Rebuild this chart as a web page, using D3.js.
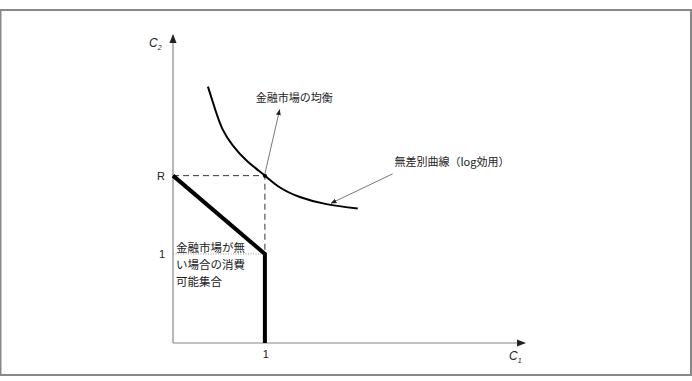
<!DOCTYPE html>
<html>
<head>
<meta charset="utf-8">
<script src="https://cdn.jsdelivr.net/npm/d3@7"></script>
<style>
    body { margin: 0; background: #fff; }
    text { font-family: "Noto Sans CJK JP", "Noto Sans", sans-serif; fill: #222; }
</style>
</head>
<body>
<script>
// values (units of C1 / C2)
var R = 1.88;
var budgetC1 = [0, 1, 1];
var budgetC2 = [R, 1, 0];
var curveC1 = [0.38, 0.46, 0.54, 0.65, 0.80, 1.0, 1.16, 1.38, 1.67, 2.01];
var curveC2 = [2.88, 2.62, 2.40, 2.22, 2.05, 1.88, 1.75, 1.64, 1.56, 1.51];
var yTicks = [{v: R, label: 'R'}, {v: 1, label: '1'}];
var xTicks = [{v: 1, label: '1'}];
var setLabel = ['金融市場が無', 'い場合の消費', '可能集合'];

var width = 692, height = 381;
var svg = d3.select('body').append('svg')
    .attr('width', width)
    .attr('height', height);

var x = d3.scaleLinear().domain([0, 3.83]).range([173, 525]);
var y = d3.scaleLinear().domain([0, 3.46]).range([343, 35]);

// frame
svg.append('rect')
    .attr('x', 0.5)
    .attr('y', 10)
    .attr('width', width - 1.5)
    .attr('height', 365)
    .style('fill', 'none')
    .style('stroke', '#888')
    .style('stroke-width', 2);

var defs = svg.append('defs');
function marker(id, size) {
    defs.append('marker')
        .attr('id', id)
        .attr('viewBox', '0 0 10 10')
        .attr('refX', 9)
        .attr('refY', 5)
        .attr('markerWidth', size)
        .attr('markerHeight', size)
        .attr('markerUnits', 'userSpaceOnUse')
        .attr('orient', 'auto')
        .append('path')
        .attr('d', 'M0,1 L10,5 L0,9 Z')
        .style('fill', '#222');
}
marker('axisArrow', 9);
marker('noteArrow', 6);

// axes
svg.append('line')
    .attr('x1', x(0)).attr('y1', y(0))
    .attr('x2', x(0)).attr('y2', y(3.46))
    .style('stroke', '#888').style('stroke-width', 1.2)
    .attr('marker-end', 'url(#axisArrow)');
svg.append('line')
    .attr('x1', x(0)).attr('y1', y(0))
    .attr('x2', x(3.83)).attr('y2', y(0))
    .style('stroke', '#888').style('stroke-width', 1.2)
    .attr('marker-end', 'url(#axisArrow)');

// axis titles
function axisTitle(tx, ty, sub) {
    var t = svg.append('text')
        .attr('x', tx)
        .attr('y', ty)
        .style('font-family', 'Liberation Sans, Arial, sans-serif')
        .style('font-style', 'italic')
        .style('font-size', 12);
    t.append('tspan').text('C');
    t.append('tspan').attr('dy', 3).style('font-size', 7).text(sub);
}
axisTitle(x(0) - 24, y(3.46) + 12, '2');
axisTitle(x(3.83) - 16, y(0) + 17, '1');

// ticks
yTicks.forEach(function(d) {
    svg.append('text')
        .attr('x', x(0) - 8)
        .attr('y', y(d.v) + 4)
        .attr('text-anchor', 'end')
        .style('font-family', 'Liberation Sans, Arial, sans-serif')
        .style('font-size', 11)
        .text(d.label);
});
xTicks.forEach(function(d) {
    svg.append('text')
        .attr('x', x(d.v) + 1)
        .attr('y', y(0) + 15)
        .attr('text-anchor', 'middle')
        .style('font-family', 'Liberation Sans, Arial, sans-serif')
        .style('font-size', 11)
        .text(d.label);
});

// dotted guide at C2 = 1
svg.append('line')
    .attr('x1', x(0)).attr('y1', y(1))
    .attr('x2', x(1)).attr('y2', y(1))
    .style('stroke', '#999')
    .style('stroke-width', 1)
    .style('stroke-dasharray', '1,1.5');

// dashed lines to the equilibrium
svg.append('path')
    .attr('d', 'M' + x(0) + ',' + y(R) + 'H' + x(1) + 'V' + y(1))
    .style('fill', 'none')
    .style('stroke', '#333')
    .style('stroke-width', 1)
    .style('stroke-dasharray', '6,4');

// budget set boundary
var line = d3.line()
    .x(function(d) { return x(d[0]); })
    .y(function(d) { return y(d[1]); });
svg.append('path')
    .datum(d3.zip(budgetC1, budgetC2))
    .attr('d', line)
    .style('fill', 'none')
    .style('stroke', '#000')
    .style('stroke-width', 4);

// indifference curve
svg.append('path')
    .datum(d3.zip(curveC1, curveC2))
    .attr('d', line.curve(d3.curveNatural))
    .style('fill', 'none')
    .style('stroke', '#000')
    .style('stroke-width', 2);

svg.append('circle')
    .attr('cx', x(1))
    .attr('cy', y(R))
    .attr('r', 2)
    .style('fill', '#000');

// annotations
function note(x1, y1, x2, y2) {
    svg.append('line')
        .attr('x1', x(x1)).attr('y1', y(y1))
        .attr('x2', x(x2)).attr('y2', y(y2))
        .style('stroke', '#555')
        .style('stroke-width', 0.8)
        .attr('marker-end', 'url(#noteArrow)');
}
note(1.0, 1.9, 1.16, 2.62);
note(2.39, 1.90, 1.72, 1.57);

svg.append('text')
    .attr('x', x(1.32))
    .attr('y', y(2.71))
    .attr('text-anchor', 'middle')
    .style('font-size', 11)
    .text('金融市場の均衡');
svg.append('text')
    .attr('x', x(2.41))
    .attr('y', y(1.99))
    .style('font-size', 11)
    .text('無差別曲線（log効用）');

setLabel.forEach(function(s, i) {
    svg.append('text')
        .attr('x', x(0) + 3)
        .attr('y', y(1) - 2 + i * 17)
        .style('font-size', 11.5)
        .text(s);
});
</script>
</body>
</html>
